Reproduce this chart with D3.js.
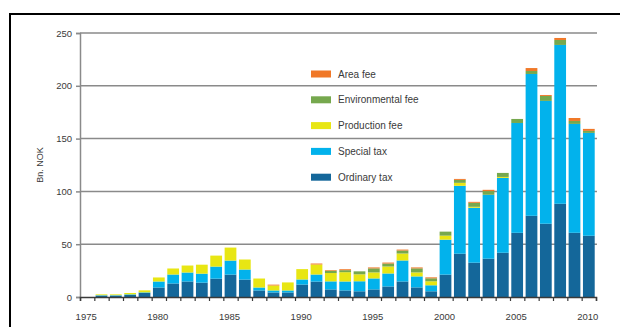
<!DOCTYPE html>
<html>
<head>
<meta charset="utf-8">
<script src="https://cdn.jsdelivr.net/npm/d3@7"></script>
<style>
  body { margin: 0; background: #fff; }
  svg text { font-family: "Liberation Sans", Arial, sans-serif; fill: #3a3a3a; }
</style>
</head>
<body>
<div id="chart"></div>
<script>
// petroleum tax revenue, bn NOK
var years = d3.range(1975, 2011);
var ordinary = [0, 1.3, 1.3, 1.9, 3.8, 9.0, 12.8, 14.7, 13.6, 17.4, 21.2, 16.5, 6.2, 4.3, 4.3, 11.8, 14.6, 7.2, 6.2, 5.4, 7.2, 10.0, 14.7, 9.1, 5.4, 21.2, 41.0, 32.5, 36.3, 41.9, 60.8, 76.9, 69.4, 88.3, 60.8, 58.0];
var special = [0, 0.4, 0.4, 0.6, 0.6, 5.7, 8.5, 8.5, 8.5, 11.4, 13.3, 9.5, 2.8, 1.9, 1.9, 4.8, 6.7, 7.6, 8.5, 9.5, 10.4, 12.3, 19.9, 10.4, 5.7, 33.1, 64.3, 52.0, 60.5, 70.9, 104.0, 134.3, 116.3, 150.4, 103.1, 97.4];
var production = [0, 0.8, 0.8, 1.3, 1.9, 3.8, 5.7, 6.6, 8.5, 10.4, 12.3, 9.5, 8.5, 4.7, 7.6, 9.8, 9.5, 7.9, 8.8, 6.6, 5.7, 6.6, 6.6, 3.8, 3.8, 3.8, 2.8, 0.9, 0, 0.9, 0, 0, 0, 0, 0, 0];
var environmental = [0, 0, 0, 0, 0, 0, 0, 0, 0, 0, 0, 0, 0, 0, 0, 0, 0, 2.2, 1.9, 2.8, 3.8, 2.8, 2.8, 3.8, 2.8, 3.8, 2.8, 3.8, 3.5, 3.8, 3.8, 2.8, 4.7, 4.7, 2.8, 1.9];
var area = [0, 0, 0, 0, 0, 0, 0, 0, 0, 0, 0, 0, 0, 0.8, 0, 0, 0.9, 0.6, 0.9, 0, 0.9, 0.9, 0.9, 0.9, 0.9, 0, 0.9, 0.9, 1.2, 0, 0, 2.8, 0.9, 1.9, 2.8, 1.9];

var keys = ["ordinary", "special", "production", "environmental", "area"];
var labels = {ordinary: "Ordinary tax", special: "Special tax", production: "Production fee", environmental: "Environmental fee", area: "Area fee"};
var colors = {ordinary: "#14679a", special: "#02b2ec", production: "#e8e613", environmental: "#76a84e", area: "#f07828"};
var yTicks = [0, 50, 100, 150, 200, 250];
var xLabels = [1975, 1980, 1985, 1990, 1995, 2000, 2005, 2010];

var rows = years.map(function (yr, i) {
    return {year: yr, ordinary: ordinary[i], special: special[i], production: production[i],
        environmental: environmental[i], area: area[i]};
});

var width = 620, height = 327;
var plotLeft = 80, plotRight = 596, plotTop = 33, plotBottom = 297;

var svg = d3.select("#chart").append("svg")
    .attr("width", width)
    .attr("height", height);

// outer frame
svg.append("rect")
    .attr("x", 10).attr("y", 14)
    .attr("width", 700).attr("height", 400)
    .attr("fill", "none")
    .attr("stroke", "#000")
    .attr("stroke-width", 2);

var x = d3.scaleBand()
    .domain(years)
    .range([plotLeft, plotRight])
    .paddingInner(0.18)
    .paddingOuter(0.09);

var xEdge = d3.scaleLinear()
    .domain([1974.5, 2010.5])
    .range([plotLeft, plotRight]);

var y = d3.scaleLinear()
    .domain([0, 250])
    .range([plotBottom, plotTop]);

// gridlines
svg.append("g")
    .selectAll("line")
    .data(yTicks.slice(1))
    .enter().append("line")
    .attr("x1", plotLeft).attr("x2", plotRight + 1)
    .attr("y1", function (d) { return y(d); })
    .attr("y2", function (d) { return y(d); })
    .attr("stroke", "#8a8a8a")
    .attr("stroke-width", 1.5);

// y axis
var yAxis = svg.append("g")
    .attr("transform", "translate(" + plotLeft + ",0)")
    .call(d3.axisLeft(y).tickValues(yTicks).tickSize(4).tickPadding(4));
yAxis.select(".domain").attr("stroke", "#8a8a8a").attr("stroke-width", 1.5);
yAxis.selectAll(".tick line").attr("stroke", "#8a8a8a").attr("stroke-width", 1.5);
yAxis.selectAll("text").style("font-size", "9.5px").attr("fill", "#3a3a3a");

svg.append("text")
    .attr("transform", "translate(43,165) rotate(-90)")
    .attr("text-anchor", "middle")
    .style("font-size", "9px")
    .text("Bn. NOK");

// bars
var series = d3.stack().keys(keys)(rows);

svg.append("g")
    .selectAll("g")
    .data(series)
    .enter().append("g")
    .attr("fill", function (d) { return colors[d.key]; })
    .selectAll("rect")
    .data(function (d) { return d; })
    .enter().append("rect")
    .attr("x", function (d) { return x(d.data.year); })
    .attr("width", x.bandwidth())
    .attr("y", function (d) { return y(d[1]); })
    .attr("height", function (d) { return y(d[0]) - y(d[1]); });

// x axis: tick marks at band edges, labels every fifth year
var xAxis = svg.append("g")
    .attr("transform", "translate(0," + plotBottom + ")")
    .call(d3.axisBottom(xEdge).tickValues(d3.range(1974.5, 2011, 1)).tickSize(4).tickFormat(""));
xAxis.select(".domain").attr("stroke", "#3a3a3a").attr("stroke-width", 1.5);
xAxis.selectAll(".tick line").attr("stroke", "#3a3a3a").attr("stroke-width", 1.2);

var xLab = svg.append("g")
    .attr("transform", "translate(-1," + plotBottom + ")")
    .call(d3.axisBottom(x).tickValues(xLabels).tickSize(0).tickPadding(16));
xLab.select(".domain").remove();
xLab.selectAll("text").style("font-size", "9.5px").attr("fill", "#3a3a3a");

// legend
var legend = svg.append("g")
    .selectAll("g")
    .data(keys.slice().reverse())
    .enter().append("g")
    .attr("transform", function (d, i) { return "translate(311," + (74 + i * 25.8) + ")"; });

legend.append("rect")
    .attr("x", 0).attr("y", -3.5)
    .attr("width", 20).attr("height", 7)
    .attr("fill", function (d) { return colors[d]; });

legend.append("text")
    .attr("x", 27)
    .attr("y", 3.5)
    .style("font-size", "10px")
    .text(function (d) { return labels[d]; });
</script>
</body>
</html>
